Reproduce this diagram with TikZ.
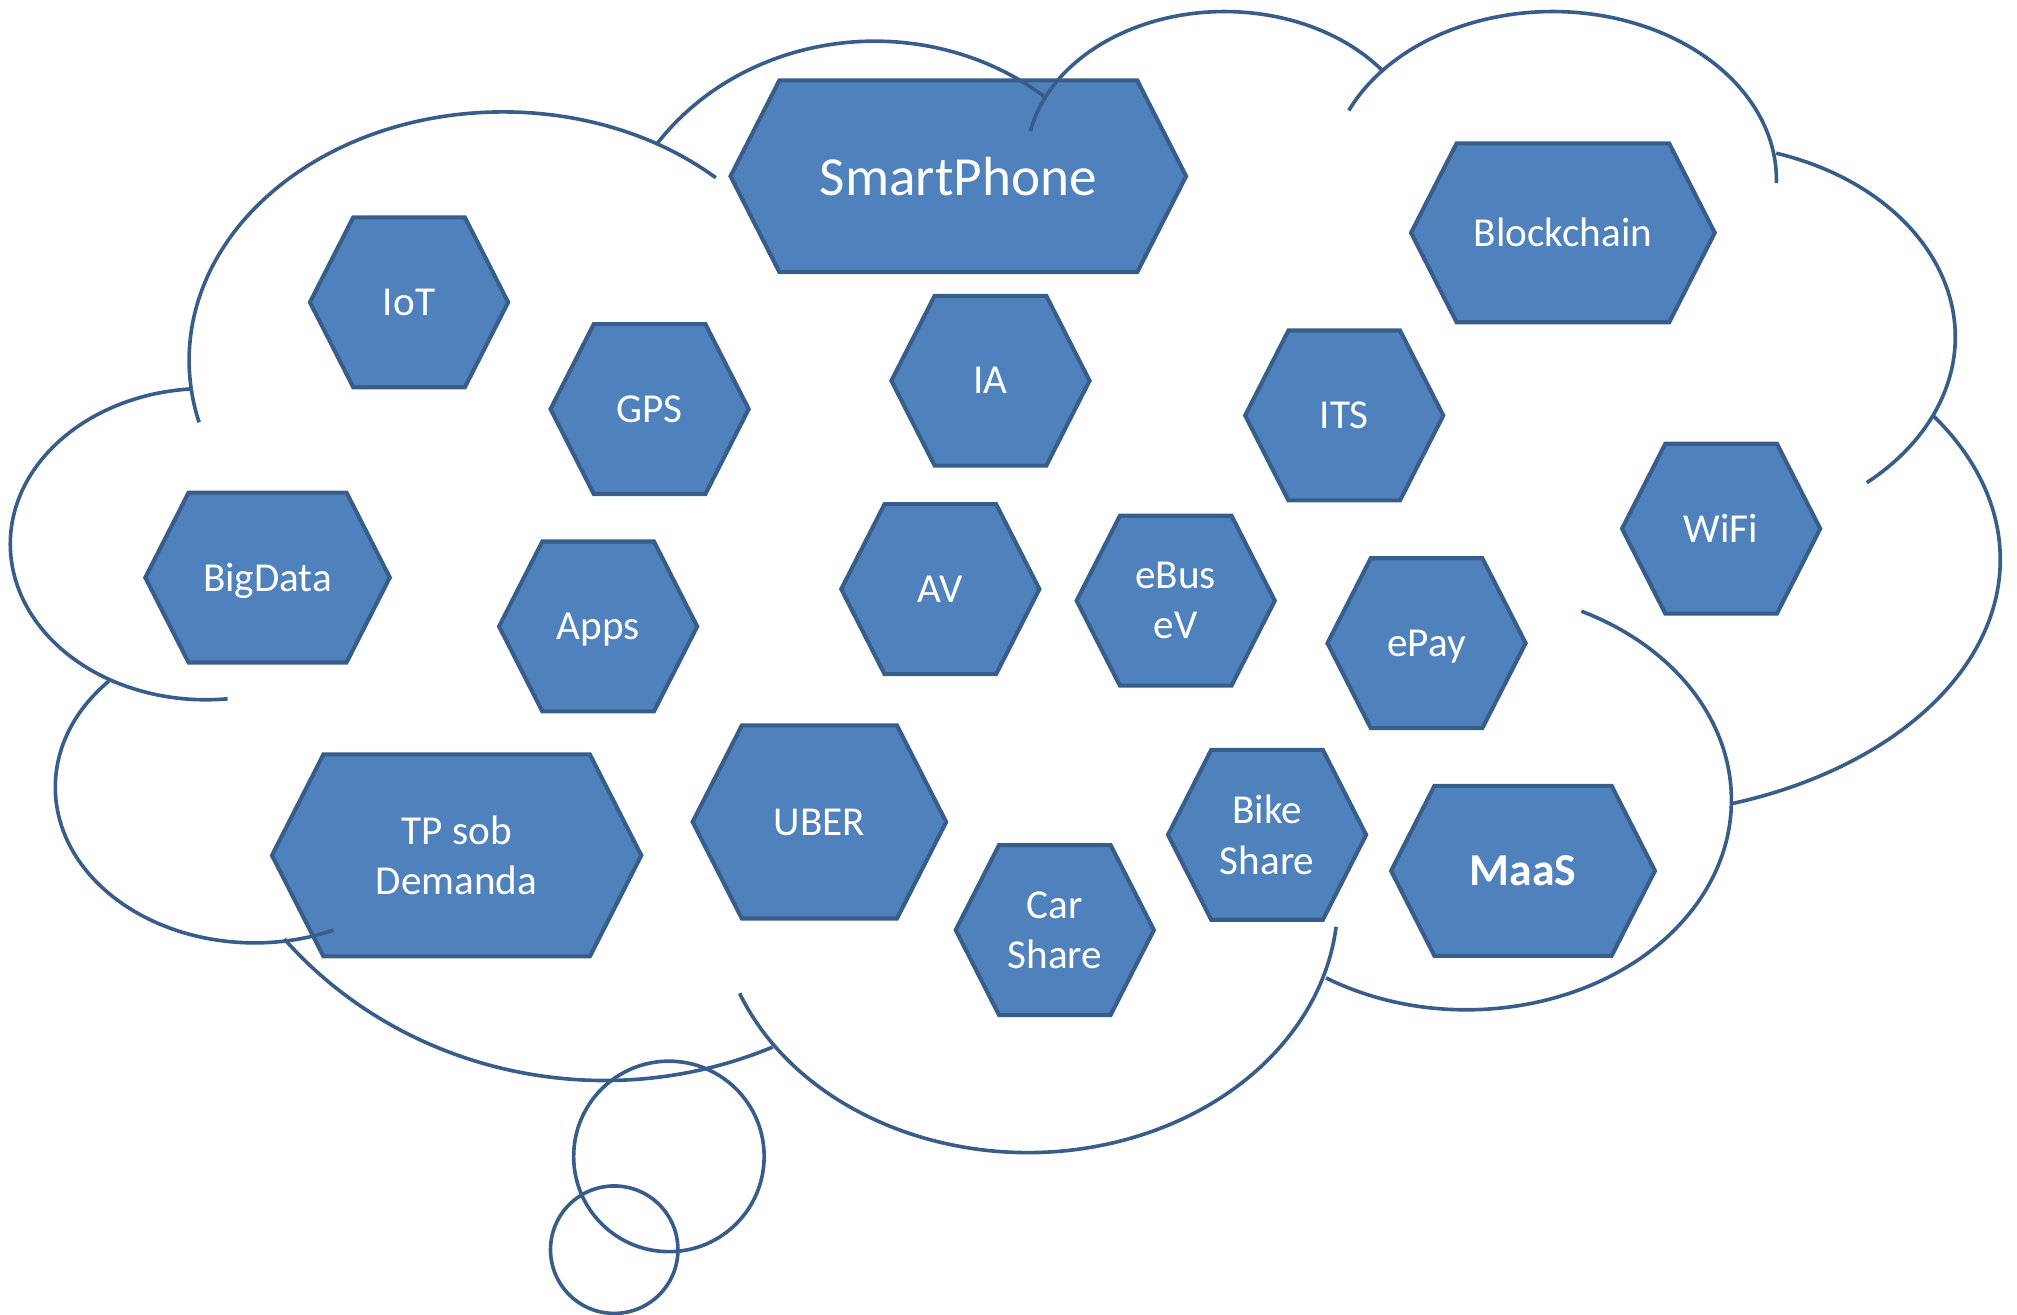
\documentclass[tikz,border=0pt]{standalone}
\usepackage{fontspec}
\setmainfont{Carlito}
\usepackage{tikz}
\usetikzlibrary{shapes.symbols}
\definecolor{hexfill}{HTML}{4F81BD}
\definecolor{hexline}{HTML}{385D8A}

\begin{document}
\begin{tikzpicture}[x=0.01cm,y=0.01cm]
        \tikzstyle{hexa}=[signal, signal to=east and west, signal pointer angle=126,
          draw=hexline, fill=hexfill, line width=0.9pt, text=white, inner sep=0pt,
          align=center, minimum width=1.54cm, minimum height=1.32cm,
          font=\fontsize{9.1}{11.1}\selectfont]
        \tikzstyle{cloudline}=[draw=hexline, line width=0.8pt]
        \tikzstyle{bubble}=[circle, draw=hexline, line width=0.8pt, inner sep=0pt]

        \useasboundingbox (0,0) rectangle (1568,-1022);

        \node[hexa, minimum width=3.54cm, minimum height=1.49cm,
          font=\fontsize{12.2}{14.6}\selectfont] (phone) at (745,-137) {SmartPhone};
        \node[hexa, minimum width=2.36cm, minimum height=1.39cm] (chain) at (1215,-181) {Blockchain};
        \node[hexa] (iot)  at (318,-235)  {IoT};
        \node[hexa] (gps)  at (505,-318)  {GPS};
        \node[hexa] (ia)   at (770,-296)  {IA};
        \node[hexa] (its)  at (1045,-323) {ITS};
        \node[hexa] (wifi) at (1338,-411) {WiFi};
        \node[hexa, minimum width=1.90cm, text depth=0pt] (bigdata) at (208,-449) {BigData};
        \node[hexa, text depth=0pt] (apps) at (465,-487)  {Apps};
        \node[hexa] (av)   at (731,-458)  {AV};
        \node[hexa] (ebus) at (914,-467)  {eBus\\eV};
        \node[hexa, text depth=0pt] (epay) at (1109,-500) {ePay};
        \node[hexa, minimum width=2.87cm, minimum height=1.57cm] (tp) at (355,-665) {TP sob\\Demanda};
        \node[hexa, minimum width=1.97cm, minimum height=1.50cm] (uber) at (637,-639) {UBER};
        \node[hexa] (car)  at (820,-723)  {Car\\Share};
        \node[hexa] (bike) at (985,-649)  {Bike\\Share};
        \node[hexa, minimum width=2.05cm,
          font=\fontsize{10.1}{12.3}\selectfont\bfseries] (maas) at (1184,-677) {MaaS};

        \draw[cloudline] (391,-280) ++(47.3:244 and 193) arc[start angle=47.3, end angle=194.5, x radius=244, y radius=193];
        \draw[cloudline] (160,-423) ++(94.5:152 and 121) arc[start angle=94.5, end angle=276.4, x radius=152, y radius=121];
        \draw[cloudline] (198,-612) ++(137:155 and 121) arc[start angle=137, end angle=293.3, x radius=155, y radius=121];
        \draw[cloudline] (470,-532) ++(220:325 and 308) arc[start angle=220, end angle=293.7, x radius=325, y radius=308];
        \draw[cloudline] (799,-700) ++(201.6:241 and 196) arc[start angle=201.6, end angle=354, x radius=241, y radius=196];
        \draw[cloudline] (1140,-622) ++(238:206 and 163) arc[start angle=238, end angle=424.3, x radius=206, y radius=163];
        \draw[cloudline] (1250,-435) ++(-71.8:305 and 200) arc[start angle=-71.8, end angle=34, x radius=305, y radius=200];
        \draw[cloudline] (1320,-262) ++(72.3:200 and 150) arc[start angle=72.3, end angle=-49, x radius=200, y radius=150];
        \draw[cloudline] (1207,-140) ++(155.6:174 and 131) arc[start angle=155.6, end angle=-1, x radius=174, y radius=131];
        \draw[cloudline] (952,-125) ++(168.6:154 and 116) arc[start angle=168.6, end angle=36.7, x radius=154, y radius=116];
        \draw[cloudline] (680,-220) ++(144.6:207 and 188) arc[start angle=144.6, end angle=50.6, x radius=207, y radius=188];

        \node[bubble, minimum size=1.48cm] (think1) at (520,-899) {};
        \node[bubble, minimum size=0.99cm] (think2) at (477.5,-971.5) {};
\end{tikzpicture}
\end{document}
